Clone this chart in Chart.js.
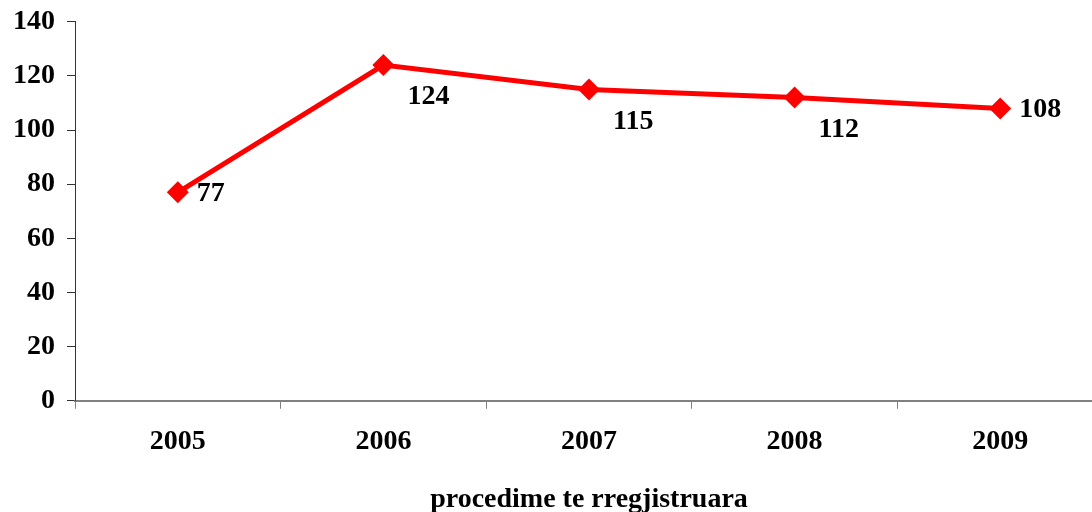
<!DOCTYPE html>
<html>
<head>
<meta charset="utf-8">
<script src="https://cdn.jsdelivr.net/npm/chart.js@4"></script>
<style>
  html, body { margin: 0; padding: 0; background: #fff; overflow: hidden; }
  #grafico { display: block; }
</style>
</head>
<body>
<canvas id="grafico" width="1114" height="512"></canvas>
<script>
const vitet = ['2005', '2006', '2007', '2008', '2009'];
const procedimet = [77, 124, 115, 112, 108];
const yTicks = [0, 20, 40, 60, 80, 100, 120, 140];
const pozicioniEtiketave = ['right', 'below', 'below', 'below', 'right'];

const fonti = { family: '"Liberation Serif", "Times New Roman", serif', weight: 'bold', size: 28 };

// etiketat e vlerave prane pikave
const etiketat = {
  id: 'etiketat',
  afterDatasetsDraw(chart) {
    const ctx = chart.ctx;
    const meta = chart.getDatasetMeta(0);
    ctx.save();
    ctx.font = `${fonti.weight} ${fonti.size}px ${fonti.family}`;
    ctx.fillStyle = '#000';
    ctx.textAlign = 'left';
    ctx.textBaseline = 'middle';
    meta.data.forEach((p, i) => {
      const poshte = pozicioniEtiketave[i] === 'below';
      ctx.fillText(String(procedimet[i]), p.x + (poshte ? 24 : 19), p.y + (poshte ? 32 : 1));
    });
    ctx.restore();
  }
};

new Chart(document.getElementById('grafico'), {
  type: 'line',
  data: {
    labels: vitet,
    datasets: [{
      data: procedimet,
      borderColor: '#ff0000',
      backgroundColor: '#ff0000',
      borderWidth: 5,
      pointStyle: 'rectRot',
      pointRadius: 11,
      pointHoverRadius: 11,
      pointBorderWidth: 0,
      tension: 0
    }]
  },
  options: {
    responsive: false,
    animation: false,
    layout: { padding: { left: 1, top: 0, right: 0, bottom: -5 } },
    plugins: { legend: { display: false }, tooltip: { enabled: false } },
    scales: {
      x: {
        offset: true,
        grid: { offset: true, drawOnChartArea: false, color: '#808080', tickLength: 8, lineWidth: 1 },
        border: { color: '#808080', width: 2 },
        ticks: { color: '#000', font: fonti, padding: 16 },
        title: { display: true, text: 'procedime te rregjistruara', color: '#000', font: fonti, padding: { top: 9, bottom: 0 } }
      },
      y: {
        min: 0,
        max: 140,
        afterBuildTicks: axis => { axis.ticks = yTicks.map(v => ({ value: v })); },
        grid: { drawOnChartArea: false, color: '#333', tickLength: 8 },
        border: { color: '#333', width: 1 },
        ticks: { color: '#000', font: { ...fonti, lineHeight: 0.7 }, padding: 12 }
      }
    }
  },
  plugins: [etiketat]
});
</script>
</body>
</html>
